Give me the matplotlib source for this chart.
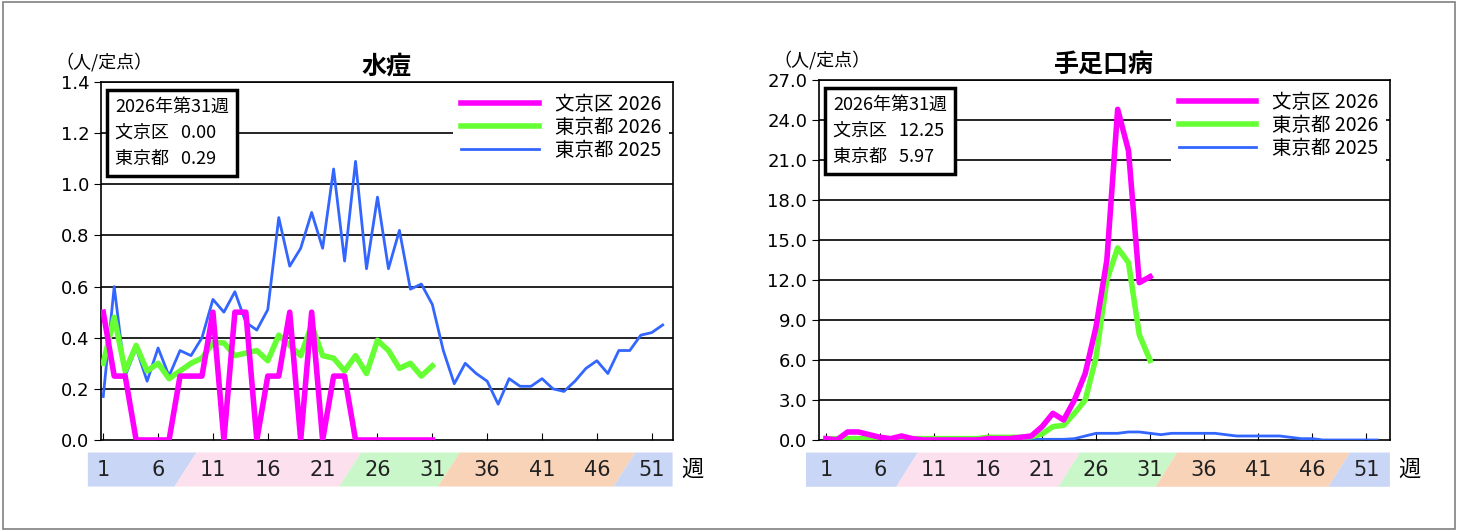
import matplotlib.pyplot as plt
import matplotlib.transforms as mtransforms
from matplotlib.patches import Polygon, Rectangle

plt.rcParams['font.family'] = ['Noto Sans CJK JP', 'DejaVu Sans']

weeks = list(range(1, 53))
weeks26 = list(range(1, 32))

# 水痘
vz_bunkyo_2026 = [0.5, 0.25, 0.25, 0, 0, 0, 0, 0.25, 0.25, 0.25, 0.5, 0, 0.5, 0.5, 0, 0.25,
                  0.25, 0.5, 0, 0.5, 0, 0.25, 0.25, 0, 0, 0, 0, 0, 0, 0, 0]
vz_tokyo_2026 = [0.3, 0.48, 0.27, 0.37, 0.27, 0.3, 0.24, 0.27, 0.3, 0.32, 0.38, 0.38, 0.33, 0.34,
                 0.35, 0.31, 0.41, 0.37, 0.33, 0.45, 0.33, 0.32, 0.27, 0.33, 0.26, 0.39, 0.35,
                 0.28, 0.3, 0.25, 0.29]
vz_tokyo_2025 = [0.17, 0.6, 0.25, 0.36, 0.23, 0.36, 0.25, 0.35, 0.33, 0.4, 0.55, 0.5, 0.58, 0.46,
                 0.43, 0.51, 0.87, 0.68, 0.75, 0.89, 0.75, 1.06, 0.7, 1.09, 0.67, 0.95, 0.67, 0.82,
                 0.59, 0.61, 0.53, 0.35, 0.22, 0.3, 0.26, 0.23, 0.14, 0.24, 0.21, 0.21, 0.24, 0.2,
                 0.19, 0.23, 0.28, 0.31, 0.26, 0.35, 0.35, 0.41, 0.42, 0.45]

# 手足口病
hfm_bunkyo_2026 = [0.1, 0.0, 0.6, 0.6, 0.4, 0.2, 0.1, 0.3, 0.1, 0.0, 0.0, 0.0, 0.0, 0.0, 0.0, 0.1,
                   0.1, 0.1, 0.2, 0.3, 1.0, 2.0, 1.5, 3.0, 5.0, 8.5, 13.5, 24.8, 21.7, 11.8, 12.25]
hfm_tokyo_2026 = [0.1, 0.1, 0.1, 0.1, 0.1, 0.1, 0.1, 0.1, 0.1, 0.1, 0.1, 0.1, 0.1, 0.1, 0.1, 0.2,
                  0.2, 0.2, 0.2, 0.25, 0.45, 1.0, 1.1, 2.0, 3.0, 6.2, 12.0, 14.4, 13.3, 7.9, 5.97]
hfm_tokyo_2025 = [0.0, 0.2, 0.1, 0.05, 0.05, 0.05, 0.05, 0.05, 0.05, 0.05, 0.05, 0.05, 0.05, 0.05,
                  0.05, 0.05, 0.05, 0.05, 0.05, 0.05, 0.05, 0.05, 0.05, 0.1, 0.3, 0.5, 0.5, 0.5,
                  0.6, 0.6, 0.5, 0.4, 0.5, 0.5, 0.5, 0.5, 0.5, 0.4, 0.3, 0.3, 0.3, 0.3, 0.3, 0.2,
                  0.1, 0.1, 0.0, 0.0, 0.0, 0.0, 0.0, 0.0]

week_labels = [1, 6, 11, 16, 21, 26, 31, 36, 41, 46, 51]
# colored week bands: (start, end, color); None = axis edge
bands = [(None, 8.5, '#c9d6f5'), (8.5, 23.5, '#fde0ee'), (23.5, 32.5, '#c9f7c9'),
         (32.5, 48.5, '#f9d3b8'), (48.5, None, '#c9d6f5')]

MAG, GRN, BLU = '#ff00ff', '#66ff33', '#3366ff'

fig = plt.figure(figsize=(14.58, 5.31), dpi=100)
fig.patches.append(Rectangle((0.002, 0.004), 0.996, 0.992, transform=fig.transFigure,
                             fill=False, edgecolor='#808080', lw=1.2))


def draw_panel(ax, title, bunkyo, tokyo26, tokyo25, ymax, ystep, fmt, xlim, stats):
    ax.set_xlim(*xlim)
    ax.set_ylim(0, ymax)
    yt = [i * ystep for i in range(int(round(ymax / ystep)) + 1)]
    ax.set_yticks(yt)
    ax.set_yticklabels([fmt.format(v) for v in yt], fontsize=13, family='DejaVu Sans')
    for v in yt[1:]:
        ax.axhline(v, color='black', lw=1.2, zorder=1)
    ax.plot(weeks, tokyo25, color=BLU, lw=2, label='東京都 2025', zorder=3)
    ax.plot(weeks26, tokyo26, color=GRN, lw=4, label='東京都 2026', zorder=4)
    ax.plot(weeks26, bunkyo, color=MAG, lw=4, label='文京区 2026', zorder=5)
    ax.set_xticks(week_labels)
    ax.set_xticklabels([])
    ax.tick_params(axis='x', direction='in', length=5)
    ax.tick_params(axis='y', direction='out', length=5)
    for s in ax.spines.values():
        s.set_linewidth(1.2)
    h, l = ax.get_legend_handles_labels()
    leg = ax.legend(h[::-1], l[::-1], loc='upper right', fontsize=14, frameon=True,
                    fancybox=False, edgecolor='none', framealpha=1, handlelength=4,
                    borderaxespad=0.2, labelspacing=0.1)
    leg.set_zorder(6)
    ax.text(0.025, 0.955, stats, transform=ax.transAxes, fontsize=13, va='top', ha='left',
            linespacing=1.55, zorder=7,
            bbox=dict(boxstyle='square,pad=0.45', fc='white', ec='black', lw=2.5))
    ax.set_title(title, fontsize=18, fontweight='bold', pad=6)
    ax.text(-0.08, 1.03, '（人/定点）', transform=ax.transAxes, fontsize=13, ha='left',
            va='bottom')
    # week band
    tr = mtransforms.blended_transform_factory(ax.transData, ax.transAxes)
    y0, y1 = -0.13, -0.035
    sl = 1.0
    x_left = xlim[0] - 1.2
    x_right = xlim[1]
    for a, b, c in bands:
        if a is None:
            left = [(x_left, y0), (x_left, y1)]
        else:
            left = [(a - sl, y0), (a + sl, y1)]
        if b is None:
            right = [(x_right, y1), (x_right, y0)]
        else:
            right = [(b + sl, y1), (b - sl, y0)]
        poly = Polygon([left[0], left[1], right[0], right[1]], closed=True, transform=tr,
                       fc=c, ec='none', clip_on=False)
        ax.add_patch(poly)
    for w in week_labels:
        ax.text(w, (y0 + y1) / 2, str(w), transform=tr, ha='center', va='center',
                fontsize=15, family='DejaVu Sans', color='#222222')
    ax.text(1.0 + 0.015, (y0 + y1) / 2, '週', transform=ax.transAxes, ha='left',
            va='center', fontsize=16)


ax1 = fig.add_axes([0.0693, 0.1714, 0.392, 0.674])
draw_panel(ax1, '水痘', vz_bunkyo_2026, vz_tokyo_2026, vz_tokyo_2025, 1.4, 0.2, '{:.1f}',
           (0.8, 52.9), '2026年第31週\n文京区   0.00\n東京都   0.29')

ax2 = fig.add_axes([0.5617, 0.1714, 0.3916, 0.678])
draw_panel(ax2, '手足口病', hfm_bunkyo_2026, hfm_tokyo_2026, hfm_tokyo_2025, 27, 3, '{:.1f}',
           (0.35, 53.2), '2026年第31週\n文京区   12.25\n東京都   5.97')

fig.savefig('out.png', dpi=100)
